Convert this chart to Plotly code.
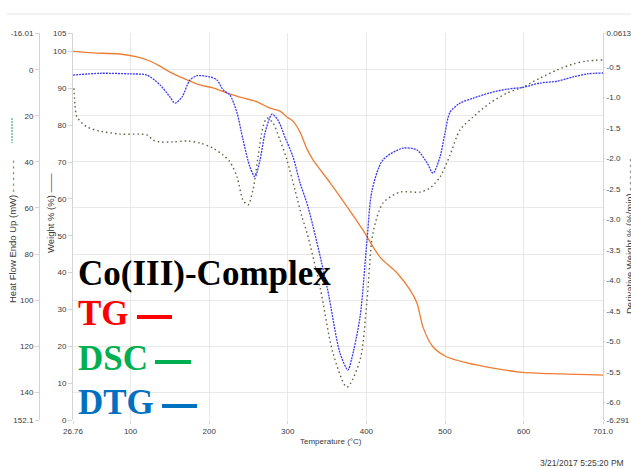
import plotly.graph_objects as go

# ---- data -------------------------------------------------------------
# TG: weight % vs temperature (°C)
tg_temp = [26.8, 52.2, 86.6, 108.2, 124.7, 137.4, 150.2, 162.9, 171.8, 188.3,
           204.9, 222.7, 239.2, 260.9, 277.4, 290.1, 299.0, 306.6, 315.6, 324.5,
           332.1, 353.7, 375.3, 395.7, 417.3, 439.0, 455.5, 464.4, 472.0, 484.8,
           502.6, 528.0, 561.1, 595.4, 646.3, 701.0]
tg_weight = [100.0, 99.6, 99.3, 98.5, 97.4, 96.0, 94.4, 93.1, 92.3, 90.9,
             90.1, 88.7, 87.6, 86.3, 84.6, 83.8, 82.2, 81.1, 78.1, 73.5,
             70.6, 64.4, 57.9, 51.5, 44.2, 39.9, 35.3, 31.7, 25.2, 19.8,
             17.1, 15.5, 14.1, 13.0, 12.5, 12.2]

# DSC: heat flow (mW, endo up) vs temperature (°C)
dsc_temp = [28.0, 29.3, 31.8, 44.6, 61.1, 86.6, 120.9, 128.5, 137.4, 154.0,
            171.8, 188.3, 204.9, 217.6, 226.5, 235.4, 243.0, 249.4, 255.7, 262.1,
            268.5, 273.6, 281.2, 290.1, 299.0, 309.2, 318.1, 324.5, 341.0, 357.5,
            375.3, 391.9, 400.8, 408.4, 421.2, 442.8, 468.2, 481.0, 493.7, 506.4,
            519.1, 535.6, 557.3, 578.9, 599.3, 620.9, 642.5, 662.9, 680.7, 701.0]
dsc_heat = [8.0, 15.0, 20.5, 24.8, 26.6, 27.9, 28.3, 30.5, 31.3, 31.3,
            30.9, 31.8, 34.0, 37.0, 40.0, 46.5, 56.5, 58.7, 52.2, 37.9,
            24.8, 20.9, 23.1, 30.5, 39.2, 52.2, 63.9, 70.9, 94.3, 123.0,
            137.8, 126.0, 100.0, 70.9, 57.8, 53.1, 53.1, 51.3, 46.5, 37.0,
            26.1, 20.5, 14.4, 10.1, 7.45, 3.54, 0.06, -2.54, -3.85, -4.28]

# DTG: derivative weight (%/min) vs temperature (°C)
dtg_temp = [26.8, 61.1, 99.3, 120.9, 137.4, 150.2, 156.5, 165.4, 175.6, 184.5,
            201.0, 210.0, 217.6, 226.5, 235.4, 243.0, 251.9, 258.3, 264.7, 271.0,
            277.4, 280.0, 287.6, 296.5, 306.6, 315.6, 325.7, 350.0, 366.4, 376.6,
            381.0, 391.9, 400.8, 407.2, 421.2, 446.6, 464.4, 477.1, 484.8, 493.7,
            500.0, 506.4, 519.1, 535.6, 557.3, 578.9, 599.3, 620.9, 642.5, 662.9,
            680.7, 701.0]
dtg_deriv = [-0.63, -0.60, -0.61, -0.63, -0.79, -0.99, -1.09, -0.99, -0.71, -0.64,
             -0.66, -0.71, -0.87, -0.96, -1.25, -1.69, -2.14, -2.30, -2.02, -1.58,
             -1.32, -1.27, -1.37, -1.65, -1.97, -2.40, -2.79, -4.11, -5.19, -5.47,
             -5.30, -4.60, -3.34, -2.52, -2.02, -1.83, -1.86, -2.07, -2.24, -1.97,
             -1.58, -1.24, -1.09, -1.01, -0.92, -0.86, -0.83, -0.76, -0.73, -0.66,
             -0.61, -0.595]

# ---- axis ticks -------------------------------------------------------
x_ticks = [26.76, 100, 200, 300, 400, 500, 600, 701.0]
x_labels = ["26.76", "100", "200", "300", "400", "500", "600", "701.0"]
w_ticks = [0, 10, 20, 30, 40, 50, 60, 70, 80, 90, 100, 105]
w_labels = ["0", "10", "20", "30", "40", "50", "60", "70", "80", "90", "100", "105"]
hf_ticks = [-16.01, 0, 20, 40, 60, 80, 100, 120, 140, 152.1]
hf_labels = ["-16.01", "0", "20", "40", "60", "80", "100", "120", "140", "152.1"]
d_ticks = [0.0613, -0.5, -1.0, -1.5, -2.0, -2.5, -3.0, -3.5, -4.0, -4.5,
           -5.0, -5.5, -6.0, -6.291]
d_labels = ["0.0613", "-0.5", "-1.0", "-1.5", "-2.0", "-2.5", "-3.0", "-3.5",
            "-4.0", "-4.5", "-5.0", "-5.5", "-6.0", "-6.291"]

# ---- geometry helpers (pixel -> paper) --------------------------------
FIG_W, FIG_H = 631, 468
PLOT_L, PLOT_R, PLOT_T, PLOT_B = 73, 603, 33, 420


def px(xp):
    return xp / FIG_W


def py(yp):
    return (PLOT_B - yp) / (PLOT_B - PLOT_T)


SANS = "Arial, Liberation Sans, sans-serif"
TICK_FONT = dict(family=SANS, size=8, color="#3a3a3a")
TITLE_FONT = dict(family=SANS, size=9.5, color="#3a3a3a")
AXIS_GRAY = "#d4d4d4"
GRID_GRAY = "#e8e8e8"

fig = go.Figure()

fig.add_trace(go.Scatter(
    x=tg_temp, y=tg_weight, mode="lines", name="TG", yaxis="y",
    line=dict(color="#EE7D32", width=1.3, shape="spline", smoothing=0.8),
))
fig.add_trace(go.Scatter(
    x=dsc_temp, y=dsc_heat, mode="lines", name="DSC", yaxis="y2",
    line=dict(color="#5f6440", width=1.4, dash="1.5px,3px", shape="spline", smoothing=0.8),
))
fig.add_trace(go.Scatter(
    x=dtg_temp, y=dtg_deriv, mode="lines", name="DTG", yaxis="y3",
    line=dict(color="#3a3af2", width=1.3, dash="2px,1px", shape="spline", smoothing=0.8),
))

fig.update_layout(
    width=FIG_W, height=FIG_H,
    margin=dict(l=0, r=0, t=PLOT_T, b=FIG_H - PLOT_B, autoexpand=False),
    paper_bgcolor="white", plot_bgcolor="white",
    showlegend=False,
    xaxis=dict(
        domain=[px(PLOT_L), px(PLOT_R)], range=[26.76, 701.0],
        tickvals=x_ticks, ticktext=x_labels, tickfont=TICK_FONT,
        showgrid=True, gridcolor=GRID_GRAY, gridwidth=1,
        zeroline=False, showline=False, automargin=False,
        ticks="outside", ticklen=3, tickcolor=AXIS_GRAY,
    ),
    yaxis=dict(
        range=[0, 105], tickvals=w_ticks, ticktext=w_labels, tickfont=TICK_FONT,
        showgrid=False, zeroline=False, automargin=False,
        showline=True, linecolor=AXIS_GRAY, linewidth=1,
        ticks="outside", ticklen=4, tickcolor=AXIS_GRAY,
    ),
    yaxis2=dict(
        overlaying="y", anchor="free", position=px(39), side="left",
        range=[152.1, -16.01], tickvals=hf_ticks, ticktext=hf_labels, tickfont=TICK_FONT,
        showgrid=True, gridcolor=GRID_GRAY, gridwidth=1, zeroline=False,
        showline=True, linecolor=AXIS_GRAY, linewidth=1, automargin=False,
        ticks="outside", ticklen=4, tickcolor=AXIS_GRAY,
    ),
    yaxis3=dict(
        overlaying="y", anchor="x", side="right",
        range=[-6.291, 0.0613], tickvals=d_ticks, ticktext=d_labels, tickfont=TICK_FONT,
        showgrid=False, zeroline=False, automargin=False,
        showline=True, linecolor=AXIS_GRAY, linewidth=1,
        ticks="outside", ticklen=1, tickcolor=AXIS_GRAY,
    ),
)

# header rule
fig.add_shape(type="line", xref="paper", yref="paper",
              x0=px(7), x1=px(631), y0=py(14), y1=py(14),
              line=dict(color="#e4e4e4", width=1))

# axis titles


def side_title(x, y, text):
    fig.add_annotation(xref="paper", yref="paper", x=px(x), y=py(y),
                       xanchor="center", yanchor="middle",
                       text=text, textangle=-90, showarrow=False, font=TITLE_FONT)


side_title(12, 232, "Heat Flow Endo Up (mW) - - - - - -")
side_title(50, 213, "Weight % (%) ——")
side_title(629, 236, "Derivative Weight % (%/min) - - - - - -")
fig.add_shape(type="line", xref="paper", yref="paper",
              x0=px(12), x1=px(12), y0=py(118), y1=py(143),
              line=dict(color="#1fa05a", width=1, dash="2px,1px"))

fig.add_annotation(xref="paper", yref="paper", x=px(331), y=py(441),
                   xanchor="center", yanchor="middle",
                   text="Temperature (°C)", showarrow=False,
                   font=dict(family=SANS, size=8, color="#3a3a3a"))
fig.add_annotation(xref="paper", yref="paper", x=px(626), y=py(463),
                   xanchor="right", yanchor="middle",
                   text="3/21/2017 5:25:20 PM", showarrow=False,
                   font=dict(family=SANS, size=8.5, color="#3a3a3a"))

# compound label and colour key
SERIF = "Times New Roman, Liberation Serif, serif"
labels = [("Co(III)-Complex", "#000000", 273),
          ("TG", "#FF0000", 313),
          ("DSC", "#00B050", 358),
          ("DTG", "#0070C0", 402)]
for text, color, yc in labels:
    fig.add_annotation(xref="paper", yref="paper", x=px(76), y=py(yc),
                       xanchor="left", yanchor="middle", text=f"<b>{text}</b>",
                       showarrow=False, font=dict(family=SERIF, size=35, color=color))

key_dashes = [("#FF0000", 137, 172, 317),
              ("#00B050", 155, 191, 362),
              ("#0070C0", 162, 197, 406)]
for color, xa, xb, yl in key_dashes:
    fig.add_shape(type="line", xref="paper", yref="paper",
                  x0=px(xa), x1=px(xb), y0=py(yl), y1=py(yl),
                  line=dict(color=color, width=4))

fig.write_html("out.html")
